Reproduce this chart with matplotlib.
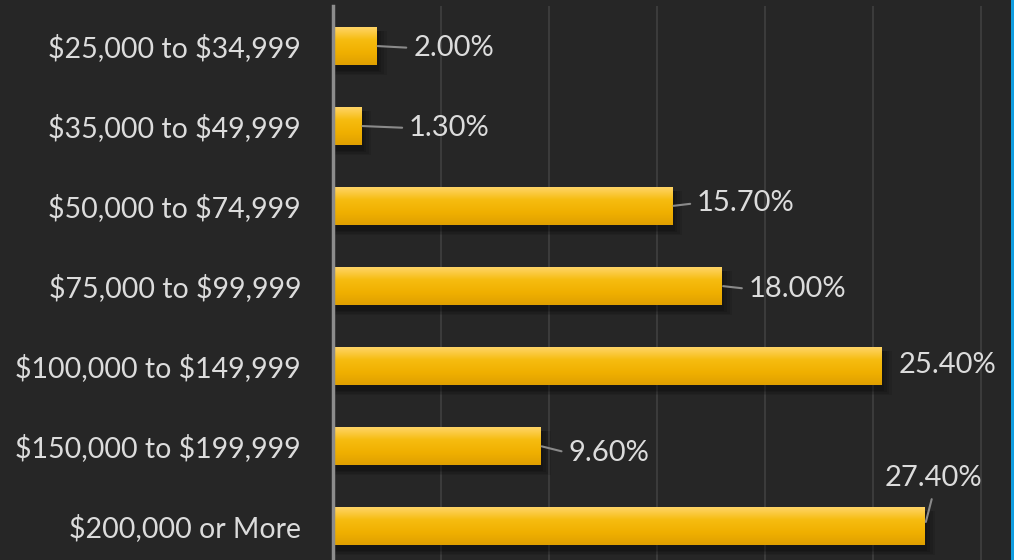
import numpy as np
import matplotlib
matplotlib.use("Agg")
import matplotlib.pyplot as plt
from matplotlib.colors import LinearSegmentedColormap
from matplotlib.patches import Rectangle

plt.rcParams["font.family"] = ["Lato", "DejaVu Sans"]

categories = ["$25,000 to $34,999", "$35,000 to $49,999", "$50,000 to $74,999",
              "$75,000 to $99,999", "$100,000 to $149,999", "$150,000 to $199,999",
              "$200,000 or More"]
values = [2.0, 1.3, 15.7, 18.0, 25.4, 9.6, 27.4]
labels = ["2.00%", "1.30%", "15.70%", "18.00%", "25.40%", "9.60%", "27.40%"]
# label offsets (pixels) from bar end, and whether a leader line is drawn
offsets = [(37, -2), (48, -2), (25, 3), (27, -3), (17, 1), (28, -7), (9, 48)]
leaders = [True, True, True, True, False, True, True]

BG = "#262626"
GOLD = LinearSegmentedColormap.from_list("gold", ["#ffd466", "#f6bc10", "#f0b000", "#e0a000"])

fig = plt.figure(figsize=(10.14, 5.6), dpi=100, facecolor=BG)
ax = fig.add_axes([333 / 1014, 0, 1 - 333 / 1014, 554 / 560])
ax.set_facecolor(BG)
ax.set_xlim(0, 31.53)
ax.set_ylim(6.425, -0.5)

h = 0.475
grad = np.linspace(0, 1, 64).reshape(-1, 1)
for i, v in enumerate(values):
    # soft shadow
    for k, a in enumerate([0.10, 0.10, 0.12, 0.14]):
        d = 0.02 * (4 - k)
        ax.add_patch(Rectangle((0, i - h / 2 + 0.05), v + d * 6, h + d, color="black",
                               alpha=a, lw=0, zorder=2))
    ax.imshow(grad, extent=[0, v, i + h / 2, i - h / 2], cmap=GOLD, aspect="auto",
              interpolation="bilinear", zorder=3)

ax.set_xticks(np.arange(0, 31, 5))
ax.grid(axis="x", color="#3b3b3b", lw=1.5, zorder=0)
ax.set_axisbelow(True)
ax.tick_params(axis="x", length=0, labelbottom=False)
ax.set_yticks(range(len(categories)))
ax.set_yticklabels([c.replace("$", r"\$") for c in categories], fontsize=20.5, color="#dcdcdc")
ax.tick_params(axis="y", length=0, pad=23)
for s in ["top", "right", "bottom"]:
    ax.spines[s].set_visible(False)
ax.spines["left"].set_color("#8c8c8c")
ax.spines["left"].set_linewidth(2.5)
ax.spines["left"].set_zorder(5)

for i, (v, lab, off, ld) in enumerate(zip(values, labels, offsets, leaders)):
    top = off[1] > 20
    ap = None
    if ld:
        ap = dict(arrowstyle="-", color="#8a8a8a", lw=1.5, shrinkA=3 if not top else 4,
                  shrinkB=1 if not top else 3,
                  relpos=(0.5, 0) if top else (0, 0.5),
                  connectionstyle="arc3,rad=0")
    ax.annotate(lab, xy=(v, i), xytext=off, textcoords="offset pixels",
                ha="center" if top else "left", va="center", fontsize=21,
                color="#dcdcdc", arrowprops=ap, zorder=6, annotation_clip=False)

fig.add_artist(Rectangle((1011 / 1014, 0), 3 / 1014, 1, transform=fig.transFigure,
                         color="#0f9de0", lw=0))
fig.savefig("out.png", dpi=100, facecolor=BG)
